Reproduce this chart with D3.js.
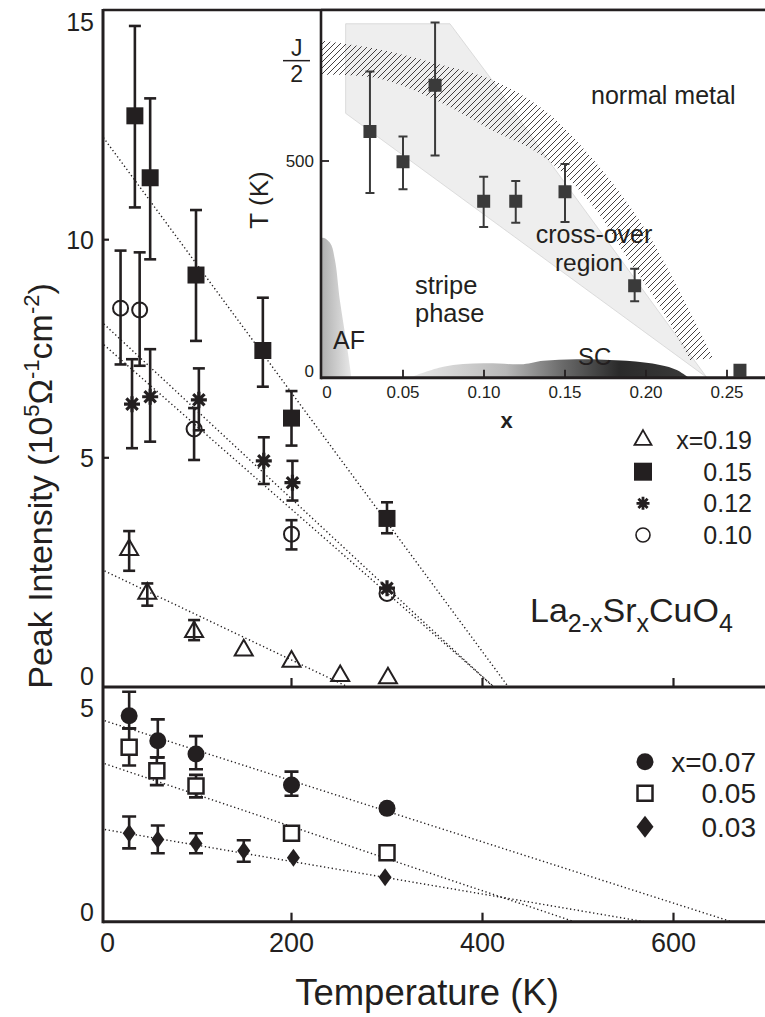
<!DOCTYPE html>
<html><head><meta charset="utf-8">
<script src="https://cdn.jsdelivr.net/npm/d3@7"></script>
<style>
body{margin:0;background:#fff}
svg{display:block}
text{font-family:"Liberation Sans",Arial,Helvetica,sans-serif;fill:#231f20}
</style>
</head><body>
<svg id="c" width="765" height="1017"></svg>
<script>
// ---------------- DATA ----------------
const tempTicks = [0, 200, 400, 600];
const upperYTicks = [0, 5, 10, 15];
const upperYTickMarks = [5, 10];
const lowerYTicks = [0, 5];

// Upper panel series (T in K, value, error low, error high)
const s019T  = [30, 49, 98, 150, 200, 251, 301];
const s019V  = [2.89, 1.89, 1.01, 0.59, 0.33, 0.0, -0.05];
const s019Lo = [2.41, 1.61, 0.82, null, null, null, null];
const s019Hi = [3.32, 2.12, 1.28, null, null, null, null];

const s015T  = [36, 52, 100, 170, 200, 300];
const s015V  = [12.84, 11.42, 9.19, 7.46, 5.91, 3.61];
const s015Lo = [10.74, 9.55, 7.68, 6.63, 5.28, 3.27];
const s015Hi = [14.90, 13.24, 10.68, 8.67, 6.53, 3.98];

const s012T  = [33, 52, 103, 171, 201, 300];
const s012V  = [6.23, 6.40, 6.33, 4.93, 4.43, 2.01];
const s012Lo = [5.22, 5.37, 5.63, 4.40, 4.02, null];
const s012Hi = [7.26, 7.49, 7.05, 5.47, 4.93, null];

const s010T  = [21, 41, 98, 200, 300];
const s010V  = [8.43, 8.39, 5.66, 3.25, 1.89];
const s010Lo = [7.14, 7.11, 4.95, 2.90, null];
const s010Hi = [9.75, 9.71, 6.14, 3.57, null];

// Upper linear fits: value at T=0 and T where the fit reaches zero
const upperFitNames     = ["0.15", "0.12", "0.10", "0.19"];
const upperFitIntercept = [12.43, 8.14, 7.66, 2.45];
const upperFitZero      = [418.6, 399, 399, 235];

// Lower panel series
const s007T  = [30, 60, 100, 200, 300];
const s007V  = [4.81, 4.20, 3.87, 3.11, 2.54];
const s007Lo = [4.50, 3.79, 3.50, 2.85, null];
const s007Hi = [5.40, 4.72, 4.31, 3.44, null];

const s005T  = [30, 59, 100, 200, 300];
const s005V  = [4.04, 3.46, 3.09, 1.93, 1.45];
const s005Lo = [3.59, 3.11, 2.81, null, null];
const s005Hi = [4.50, 3.79, 3.36, null, null];

const s003T  = [30, 60, 100, 150, 202, 298];
const s003V  = [1.93, 1.78, 1.68, 1.50, 1.33, 0.85];
const s003Lo = [1.56, 1.44, 1.44, 1.23, null, null];
const s003Hi = [2.34, 2.12, 1.93, 1.76, null, null];

const lowerFitNames     = ["0.07", "0.05", "0.03"];
const lowerFitIntercept = [4.72, 3.67, 2.04];
const lowerFitZero      = [629, 466, 510];

// Inset (phase diagram)
const insetXTicks = [0, 0.05, 0.10, 0.15, 0.20, 0.25];
const insetXTickLabels = ["0", "0.05", "0.10", "0.15", "0.20", "0.25"];
const insetYTicks = [0, 500];
const insetX  = [0.0296, 0.05, 0.0698, 0.0998, 0.1196, 0.15, 0.193, 0.258];
const insetT  = [571, 498, 683, 403, 403, 426, 199, -5];
const insetLo = [423, 432, 513, 341, 351, 353, 162, null];
const insetHi = [716, 559, 834, 462, 452, 493, 240, null];
const jHalfT = 742;

const crossX = [0.0146, 0.079, 0.1048, 0.136, 0.2375, 0.0146];
const crossT = [831, 831, 696, 522, -22, 615];

const bandUpX = [0, 0.0338, 0.0698, 0.1048, 0.1366, 0.1675, 0.1984, 0.2231, 0.2416];
const bandUpT = [791, 770, 736, 696, 624, 503, 342, 168, 24];
const bandLoX = [0, 0.0338, 0.0698, 0.1048, 0.1366, 0.1675, 0.188, 0.2086, 0.2272];
const bandLoT = [708, 700, 648, 575, 511, 390, 269, 149, 20];

const afX = [0, 0, 0.005, 0.008, 0.011, 0.0152, 0.0183];
const afT = [-25, 314, 302, 261, 165, 60, -25];

const scX = [0.0523, 0.0749, 0.0996, 0.1243, 0.1366, 0.1572, 0.188, 0.2086, 0.219, 0.2272];
const scT = [-25, 4, 12, 10, 18, 22, 18, 8, -4, -25];

// ---------------- DRAWING ----------------
const INK = "#231f20";
const svg = d3.select("#c");
const defs = svg.append("defs");

const L = 103, R = 765, TOP = 10, MID = 687, BOT = 921.7;
const x  = d3.scaleLinear().domain([0, 600]).range([100.5, 673.5]);
const yU = d3.scaleLinear().domain([0, 15]).range([675.9, 21.6]);
const yL = d3.scaleLinear().domain([0, 5]).range([912, 708]);

defs.append("clipPath").attr("id", "cu").append("rect")
  .attr("x", L).attr("y", TOP).attr("width", R - L).attr("height", MID - TOP);
defs.append("clipPath").attr("id", "cl").append("rect")
  .attr("x", L).attr("y", MID).attr("width", R - L).attr("height", BOT - MID);

const gU = svg.append("g").attr("clip-path", "url(#cu)");
const gL = svg.append("g").attr("clip-path", "url(#cl)");

function fitLines(g, y, icpt, zero) {
  const vmin = y.invert(BOT + 5);
  icpt.forEach((a, i) => {
    const z = zero[i];
    const t0 = x.invert(L - 2);
    const t1 = Math.max(z * (1 - (y === yU ? yU.invert(MID + 3) : vmin) / a), z + 40);
    g.append("line")
      .attr("x1", x(t0)).attr("y1", y(a * (1 - t0 / z)))
      .attr("x2", x(t1)).attr("y2", y(a * (1 - t1 / z)))
      .attr("stroke", INK).attr("stroke-width", 1.4)
      .attr("stroke-dasharray", "1.3,2.6");
  });
}
fitLines(gU, yU, upperFitIntercept, upperFitZero);
fitLines(gL, yL, lowerFitIntercept, lowerFitZero);

function errorBars(g, y, T, lo, hi, cap, sw) {
  T.forEach((t, i) => {
    if (lo[i] == null) return;
    const cx = x(t);
    g.append("line").attr("x1", cx).attr("x2", cx).attr("y1", y(lo[i])).attr("y2", y(hi[i]))
      .attr("stroke", INK).attr("stroke-width", sw);
    [lo[i], hi[i]].forEach(v => g.append("line")
      .attr("x1", cx - cap / 2).attr("x2", cx + cap / 2).attr("y1", y(v)).attr("y2", y(v))
      .attr("stroke", INK).attr("stroke-width", sw));
  });
}

// marker path generators (centered at 0,0)
function triPath(w) { const h = w * 0.87; return `M0,${-h*2/3}L${w/2},${h/3}L${-w/2},${h/3}Z`; }
function sqPath(s) { return `M${-s/2},${-s/2}h${s}v${s}h${-s}Z`; }
function diaPath(w, h) { return `M0,${-h/2}L${w/2},0L0,${h/2}L${-w/2},0Z`; }
function astPath(r) {
  let p = "";
  for (let k = 0; k < 4; k++) {
    const a = k * Math.PI / 4;
    p += `M${-r*Math.sin(a)},${-r*Math.cos(a)}L${r*Math.sin(a)},${r*Math.cos(a)}`;
  }
  return p;
}
const markers = {
  tri:   (g) => g.append("path").attr("d", triPath(18)).attr("fill", "none").attr("stroke", INK).attr("stroke-width", 2),
  sq:    (g) => g.append("path").attr("d", sqPath(17)).attr("fill", INK),
  ast:   (g) => g.append("path").attr("d", astPath(8)).attr("fill", "none").attr("stroke", INK).attr("stroke-width", 3.2),
  circ:  (g) => g.append("circle").attr("r", 7.5).attr("fill", "none").attr("stroke", INK).attr("stroke-width", 2),
  dot:   (g) => g.append("circle").attr("r", 8.5).attr("fill", INK),
  osq:   (g) => g.append("path").attr("d", sqPath(15)).attr("fill", "#fff").attr("stroke", INK).attr("stroke-width", 2.5),
  dia:   (g) => g.append("path").attr("d", diaPath(13, 18)).attr("fill", INK)
};
function points(g, y, T, V, m) {
  T.forEach((t, i) => {
    const mg = g.append("g").attr("transform", `translate(${x(t)},${y(V[i])})`);
    markers[m](mg);
  });
}

// upper series
errorBars(gU, yU, s019T, s019Lo, s019Hi, 12, 2.6);
errorBars(gU, yU, s015T, s015Lo, s015Hi, 12, 2.6);
errorBars(gU, yU, s012T, s012Lo, s012Hi, 12, 2.6);
errorBars(gU, yU, s010T, s010Lo, s010Hi, 12, 2.6);
points(gU, yU, s019T, s019V, "tri");
points(gU, yU, s010T, s010V, "circ");
points(gU, yU, s012T, s012V, "ast");
points(gU, yU, s015T, s015V, "sq");

// lower series
errorBars(gL, yL, s007T, s007Lo, s007Hi, 14, 2.6);
errorBars(gL, yL, s005T, s005Lo, s005Hi, 14, 2.6);
errorBars(gL, yL, s003T, s003Lo, s003Hi, 14, 2.6);
points(gL, yL, s007T, s007V, "dot");
points(gL, yL, s005T, s005V, "osq");
points(gL, yL, s003T, s003V, "dia");

// frame
svg.append("line").attr("x1", L).attr("x2", L).attr("y1", TOP - 1).attr("y2", BOT + 1.5).attr("stroke", INK).attr("stroke-width", 3);
svg.append("line").attr("x1", L).attr("x2", R).attr("y1", TOP).attr("y2", TOP).attr("stroke", INK).attr("stroke-width", 2.4);
svg.append("line").attr("x1", L).attr("x2", R).attr("y1", MID).attr("y2", MID).attr("stroke", INK).attr("stroke-width", 3);
svg.append("line").attr("x1", L).attr("x2", R).attr("y1", BOT).attr("y2", BOT).attr("stroke", INK).attr("stroke-width", 3);

// x ticks (inward, both panels)
tempTicks.filter(t => t > 0).forEach(t => {
  [MID, BOT].forEach(yb => svg.append("line").attr("x1", x(t)).attr("x2", x(t))
    .attr("y1", yb).attr("y2", yb - 9).attr("stroke", INK).attr("stroke-width", 2.2));
});
tempTicks.forEach(t => svg.append("text").attr("x", x(t) + (t === 0 ? 7 : 0)).attr("y", 952)
  .attr("text-anchor", "middle").attr("font-size", 27).text(t));
svg.append("text").attr("x", 427).attr("y", 1005).attr("text-anchor", "middle")
  .attr("font-size", 36.5).text("Temperature (K)");

// y ticks
upperYTickMarks.forEach(v => svg.append("line").attr("x1", L).attr("x2", L + 6)
  .attr("y1", yU(v)).attr("y2", yU(v)).attr("stroke", INK).attr("stroke-width", 2.2));
upperYTicks.forEach(v => svg.append("text").attr("x", 94).attr("y", yU(v)).attr("dy", "0.36em")
  .attr("text-anchor", "end").attr("font-size", 25).text(v));
lowerYTicks.forEach(v => svg.append("text").attr("x", 94).attr("y", yL(v)).attr("dy", "0.36em")
  .attr("text-anchor", "end").attr("font-size", 25).text(v));

// y axis title
const yt = svg.append("text").attr("transform", "translate(52,486) rotate(-90)")
  .attr("text-anchor", "middle").attr("font-size", 34);
yt.append("tspan").text("Peak Intensity (10");
yt.append("tspan").attr("font-size", 22).attr("dy", -13).text("5");
yt.append("tspan").attr("dy", 13).text("Ω");
yt.append("tspan").attr("font-size", 22).attr("dy", -13).text("-1");
yt.append("tspan").attr("dy", 13).text("cm");
yt.append("tspan").attr("font-size", 22).attr("dy", -13).text("-2");
yt.append("tspan").attr("dy", 13).text(")");

// upper legend
const legU = [["tri", "x=0.19"], ["sq", "0.15"], ["ast", "0.12"], ["circ", "0.10"]];
const legUY = [440, 471.7, 503.3, 535];
const legUM = {
  tri: g => g.append("path").attr("d", triPath(17)).attr("fill", "none").attr("stroke", INK).attr("stroke-width", 1.8),
  sq: g => g.append("path").attr("d", sqPath(18)).attr("fill", INK),
  ast: g => g.append("path").attr("d", astPath(6.5)).attr("fill", "none").attr("stroke", INK).attr("stroke-width", 2.8),
  circ: g => g.append("circle").attr("r", 7).attr("fill", "none").attr("stroke", INK).attr("stroke-width", 1.6)
};
legU.forEach((d, i) => {
  legUM[d[0]](svg.append("g").attr("transform", `translate(643,${legUY[i]})`));
  svg.append("text").attr("x", 752).attr("y", legUY[i]).attr("dy", "0.36em")
    .attr("text-anchor", "end").attr("font-size", 25).text(d[1]);
});

// formula
const fm = svg.append("text").attr("x", 530).attr("y", 622).attr("font-size", 34);
fm.append("tspan").text("La");
fm.append("tspan").attr("font-size", 25).attr("dy", 10).text("2-x");
fm.append("tspan").attr("dy", -10).text("Sr");
fm.append("tspan").attr("font-size", 25).attr("dy", 10).text("x");
fm.append("tspan").attr("dy", -10).text("CuO");
fm.append("tspan").attr("font-size", 25).attr("dy", 10).text("4");

// lower legend
const legL = [["dot", "x=0.07"], ["osq", "0.05"], ["dia", "0.03"]];
const legLY = [761.7, 793.3, 826.7];
const legLM = {
  dot: g => g.append("circle").attr("r", 8.5).attr("fill", INK),
  osq: g => g.append("path").attr("d", sqPath(15)).attr("fill", "#fff").attr("stroke", INK).attr("stroke-width", 2.5),
  dia: g => g.append("path").attr("d", diaPath(17, 22)).attr("fill", INK)
};
legL.forEach((d, i) => {
  legLM[d[0]](svg.append("g").attr("transform", `translate(645,${legLY[i]})`));
  svg.append("text").attr("x", 756).attr("y", legLY[i]).attr("dy", "0.36em")
    .attr("text-anchor", "end").attr("font-size", 28).text(d[1]);
});

// ---------------- INSET ----------------
const IL = 321, IB = 377.7;
const xi = d3.scaleLinear().domain([0, 0.25]).range([322, 727]);
const yi = d3.scaleLinear().domain([0, 500]).range([368.3, 161]);

defs.append("clipPath").attr("id", "ci").append("rect")
  .attr("x", IL).attr("y", TOP).attr("width", R - IL).attr("height", IB - TOP);
const gradAF = defs.append("linearGradient").attr("id", "gaf").attr("x1", 0).attr("x2", 1).attr("y1", 0).attr("y2", 0);
gradAF.append("stop").attr("offset", 0).attr("stop-color", "#a9a9a9");
gradAF.append("stop").attr("offset", 1).attr("stop-color", "#e9e9e9");
const gradSC = defs.append("linearGradient").attr("id", "gsc").attr("x1", 0).attr("x2", 1).attr("y1", 0).attr("y2", 0);
[[0, "#ececec"], [0.35, "#b8b8b8"], [0.55, "#6a6a6a"], [0.75, "#2a2a2a"], [1, "#3a3a3a"]]
  .forEach(s => gradSC.append("stop").attr("offset", s[0]).attr("stop-color", s[1]));
const HS = 6;
const hatch = defs.append("pattern").attr("id", "hatch").attr("patternUnits", "userSpaceOnUse")
  .attr("width", HS).attr("height", HS);
hatch.append("path").attr("d", `M-1,1L1,-1M0,${HS}L${HS},0M${HS-1},${HS+1}L${HS+1},${HS-1}`)
  .attr("stroke", INK).attr("stroke-width", 0.85);

svg.append("rect").attr("x", IL).attr("y", TOP).attr("width", R - IL).attr("height", IB - TOP).attr("fill", "#fff");
const gi = svg.append("g").attr("clip-path", "url(#ci)");

// cross-over region
gi.append("path")
  .attr("d", d3.line()(crossX.map((v, i) => [xi(v), yi(crossT[i])])) + "Z")
  .attr("fill", "#eeeeee").attr("stroke", "#d4d4d4").attr("stroke-width", 0.8);

// AF
gi.append("path")
  .attr("d", d3.line().curve(d3.curveCatmullRom)(afX.map((v, i) => [xi(v), yi(afT[i])])) + "Z")
  .attr("fill", "url(#gaf)");
// SC
gi.append("path")
  .attr("d", d3.line().curve(d3.curveCatmullRom)(scX.map((v, i) => [xi(v), yi(scT[i])])) + "Z")
  .attr("fill", "url(#gsc)");

// hatched crossover band
const cur = d3.line().curve(d3.curveCatmullRom);
const up = cur(bandUpX.map((v, i) => [xi(v) - (i === 0 ? 3 : 0), yi(bandUpT[i])]));
const lo = cur(bandLoX.map((v, i) => [xi(v) - (i === 0 ? 3 : 0), yi(bandLoT[i])]).reverse());
gi.append("path").attr("d", up + "L" + lo.slice(1) + "Z").attr("fill", "url(#hatch)");

// inset texts
const itxt = (t, px, py, anchor, fs) => gi.append("text").attr("x", px).attr("y", py)
  .attr("text-anchor", anchor || "start").attr("font-size", fs || 25).text(t);
itxt("normal metal", 591, 103.5);
itxt("cross-over", 594, 243, "middle");
itxt("region", 589, 270.5, "middle", 24.5);
itxt("stripe", 415, 294, "start", 25.5);
itxt("phase", 415, 322, "start", 25.5);
itxt("AF", 333, 348.5);
itxt("SC", 578, 365, "start", 24);

// inset points
const IP = "#3a3a3a";
insetX.forEach((v, i) => {
  const cx = xi(v);
  if (insetLo[i] != null) {
    gi.append("line").attr("x1", cx).attr("x2", cx).attr("y1", yi(insetLo[i])).attr("y2", yi(insetHi[i]))
      .attr("stroke", IP).attr("stroke-width", 2);
    [insetLo[i], insetHi[i]].forEach(t => gi.append("line").attr("x1", cx - 4.5).attr("x2", cx + 4.5)
      .attr("y1", yi(t)).attr("y2", yi(t)).attr("stroke", IP).attr("stroke-width", 2));
  }
  gi.append("path").attr("transform", `translate(${cx},${yi(insetT[i])})`).attr("d", sqPath(13)).attr("fill", IP);
});

// inset frame and ticks
svg.append("line").attr("x1", IL).attr("x2", IL).attr("y1", TOP).attr("y2", IB + 1.5).attr("stroke", INK).attr("stroke-width", 2.6);
svg.append("line").attr("x1", IL).attr("x2", R).attr("y1", IB).attr("y2", IB).attr("stroke", INK).attr("stroke-width", 3);
svg.append("line").attr("x1", IL).attr("x2", R).attr("y1", TOP).attr("y2", TOP).attr("stroke", INK).attr("stroke-width", 2.4);
insetXTicks.forEach((v, i) => {
  if (v > 0) svg.append("line").attr("x1", xi(v)).attr("x2", xi(v)).attr("y1", IB).attr("y2", IB - 8)
    .attr("stroke", INK).attr("stroke-width", 1.8);
  svg.append("text").attr("x", xi(v) + (v === 0 ? 5 : 0)).attr("y", 398).attr("text-anchor", "middle")
    .attr("font-size", 17).text(insetXTickLabels[i]);
});
svg.append("line").attr("x1", IL).attr("x2", IL + 8).attr("y1", yi(500)).attr("y2", yi(500))
  .attr("stroke", INK).attr("stroke-width", 1.8);
insetYTicks.forEach(v => svg.append("text").attr("x", 314).attr("y", yi(v) + (v === 0 ? 9 : 6))
  .attr("text-anchor", "end").attr("font-size", 17).text(v));
svg.append("text").attr("x", 506.7).attr("y", 428).attr("text-anchor", "middle")
  .attr("font-size", 22).attr("font-weight", "bold").text("x");
svg.append("text").attr("transform", "translate(268,200) rotate(-90)").attr("text-anchor", "middle")
  .attr("font-size", 26).text("T (K)");
// J/2 marker
const jy = yi(jHalfT);
svg.append("text").attr("x", 296.7).attr("y", jy - 5).attr("text-anchor", "middle").attr("font-size", 23).text("J");
svg.append("line").attr("x1", 283).attr("x2", 310).attr("y1", jy).attr("y2", jy).attr("stroke", INK).attr("stroke-width", 1.5);
svg.append("text").attr("x", 296.7).attr("y", jy + 21).attr("text-anchor", "middle").attr("font-size", 23).text("2");
</script>
</body></html>
